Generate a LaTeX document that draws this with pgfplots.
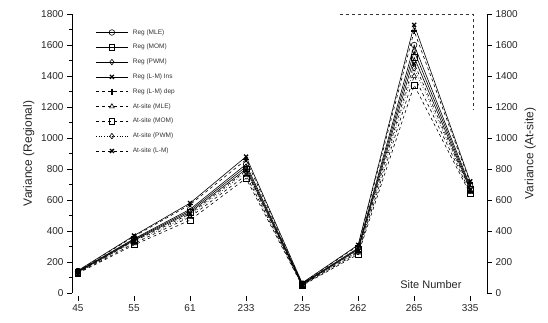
\documentclass[border=0pt]{standalone}
\usepackage{fontspec}
\setmainfont{Liberation Sans}
\usepackage{pgfplots}
\pgfplotsset{compat=1.18}
\begin{document}
\begin{tikzpicture}
\useasboundingbox (-72pt,-30pt) rectangle (476pt,293pt);
\begin{axis}[
  at={(0,0)}, anchor=south west,
  scale only axis, width=415pt, height=279pt,
  xmin=-0.107, xmax=7.30, ymin=0, ymax=1800,
  axis y line*=left, axis x line*=bottom,
  x axis line style={draw=none},
  xtick={0,...,7}, xticklabels={45,55,61,233,235,262,265,335},
  ytick={0,200,...,1800}, minor y tick num=1,
  tick align=outside, tick style={black, thin},
  major tick length=5pt, minor tick length=3pt,
  xtick style={yshift=-3pt},
  xticklabel style={yshift=-3pt},
  tick label style={font=\fontsize{10}{12}\selectfont, text=black!85},
  /pgf/number format/assume math mode=true,
  yticklabel style={/pgf/number format/1000 sep={}},
  ylabel={Variance (Regional)},
  ylabel style={font=\fontsize{12}{14}\selectfont, text=black!85},
  xlabel={Site Number},
  xlabel style={at={(axis description cs:0.947,0.015)}, anchor=base east, font=\fontsize{11}{13}\selectfont, text=black!85},
  legend style={at={(axis description cs:0.05,0.96)}, anchor=north west, draw=none, fill=none,
    font=\fontsize{6.5}{7.5}\selectfont, text=black!80, row sep=4.6pt,
    nodes={inner xsep=5pt}},
  legend cell align=left,
  legend image code/.code={\draw[mark repeat=2,mark phase=2] plot coordinates {(0cm,0cm)(0.55cm,0cm)(1.1cm,0cm)};},
  every axis plot/.append style={black, line width=0.6pt, mark size=2.8pt},
]
\addplot[solid, mark=o] coordinates {(0,140)(1,350)(2,540)(3,830)(4,60)(5,290)(6,1600)(7,690)};
\addlegendentry{Reg (MLE)}
\addplot[solid, mark=square, mark options={fill=white}] coordinates {(0,135)(1,340)(2,520)(3,800)(4,55)(5,280)(6,1520)(7,670)};
\addlegendentry{Reg (MOM)}
\addplot[solid, mark=diamond, mark options={fill=white}] coordinates {(0,138)(1,345)(2,530)(3,815)(4,58)(5,285)(6,1560)(7,680)};
\addlegendentry{Reg (PWM)}
\addplot[solid, mark=x, mark options={line width=1.3pt}] coordinates {(0,145)(1,370)(2,580)(3,880)(4,65)(5,310)(6,1730)(7,720)};
\addlegendentry{Reg (L-M) Ins}
\addplot[dashed, mark=+, mark options={solid, line width=1.3pt}] coordinates {(0,142)(1,365)(2,570)(3,860)(4,62)(5,305)(6,1690)(7,710)};
\addlegendentry{Reg (L-M) dep}
\addplot[dashed, mark=triangle, mark options={solid}] coordinates {(0,130)(1,320)(2,490)(3,760)(4,50)(5,260)(6,1400)(7,650)};
\addlegendentry{At-site (MLE)}
\addplot[dashed, mark=square, mark options={solid, fill=white}] coordinates {(0,128)(1,310)(2,470)(3,740)(4,48)(5,250)(6,1340)(7,640)};
\addlegendentry{At-site (MOM)}
\addplot[dotted, mark=diamond, mark options={solid, fill=white}] coordinates {(0,132)(1,330)(2,500)(3,780)(4,52)(5,265)(6,1450)(7,660)};
\addlegendentry{At-site (PWM)}
\addplot[dashed, mark=x, mark options={solid, line width=1.3pt}] coordinates {(0,134)(1,335)(2,510)(3,790)(4,54)(5,270)(6,1480)(7,665)};
\addlegendentry{At-site (L-M)}
\draw[dashed, black!80, thin] (axis cs:4.68,1800) -- (axis cs:7.05,1800) -- (axis cs:7.05,1180);
\draw[dashed, black!80, thin] (axis cs:4.9,0) -- (axis cs:7.30,0);
\end{axis}
\begin{axis}[
  at={(0,0)}, anchor=south west,
  scale only axis, width=415pt, height=279pt,
  xmin=-0.107, xmax=7.30, ymin=0, ymax=1800,
  axis y line*=right, axis x line=none,
  ytick={0,200,...,1800},
  tick align=outside, tick style={black, thin}, major tick length=5pt,
  tick label style={font=\fontsize{10}{12}\selectfont, text=black!85},
  /pgf/number format/assume math mode=true,
  yticklabel style={/pgf/number format/1000 sep={}},
  ylabel={Variance (At-site)},
  ylabel style={font=\fontsize{12}{14}\selectfont, text=black!85},
]
\end{axis}
\end{tikzpicture}
\end{document}
